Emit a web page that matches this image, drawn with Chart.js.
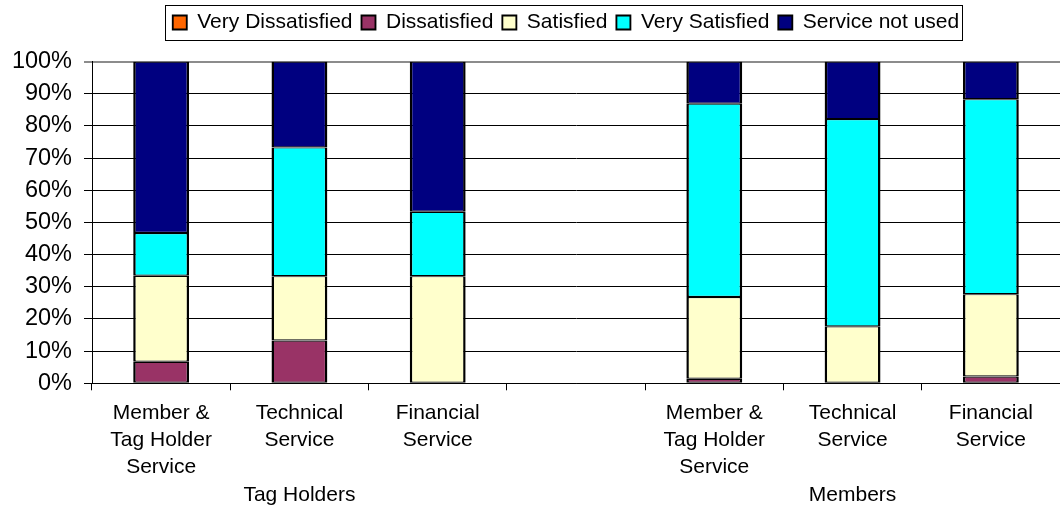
<!DOCTYPE html>
<html>
<head>
<meta charset="utf-8">
<script src="https://cdn.jsdelivr.net/npm/chart.js@4"></script>
<style>
  html, body { margin: 0; padding: 0; background: #fff; }
</style>
</head>
<body>
<canvas id="chart" width="1060" height="506"></canvas>
<script>
// categories on the axis, the empty slot is the gap between the two groups
const categories = [
  ['Member &', 'Tag Holder', 'Service'],
  ['Technical', 'Service'],
  ['Financial', 'Service'],
  [''],
  ['Member &', 'Tag Holder', 'Service'],
  ['Technical', 'Service'],
  ['Financial', 'Service']
]
const groupLabels = ['', 'Tag Holders', '', '', '', 'Members', '']

const seriesNames = ['Very Dissatisfied', 'Dissatisfied', 'Satisfied', 'Very Satisfied', 'Service not used']
const seriesColors = ['#FF6600', '#993366', '#FFFFCC', '#00FFFF', '#000080']

// percentages
const veryDissatisfied = [0, 0, 0, null, 0, 0, 0]
const dissatisfied     = [6.7, 13.3, 0, null, 1.4, 0, 2.1]
const satisfied        = [26.7, 20.0, 33.3, null, 25.4, 17.7, 25.6]
const verySatisfied    = [13.3, 40.0, 20.0, null, 60.1, 64.4, 60.6]
const serviceNotUsed   = [53.3, 26.7, 46.7, null, 13.1, 17.9, 11.7]

const yTicks = [0, 10, 20, 30, 40, 50, 60, 70, 80, 90, 100]

const LEGEND_CENTER = 566

Chart.defaults.font.family = "'Liberation Sans', Arial, sans-serif"
Chart.defaults.color = '#000'

// two level axis: group name goes on a fourth line under the middle category
const axisLabels = categories.map((lines, i) => {
  if (!groupLabels[i]) return lines
  const out = lines.slice()
  while (out.length < 3) out.push('')
  out.push(groupLabels[i])
  return out
})

// moves the legend to sit where the original had it and draws the frame round it
const legendFrame = {
  id: 'legendFrame',
  afterLayout(chart) {
    const lg = chart.legend
    const shift = LEGEND_CENTER - (lg.left + lg.right) / 2
    lg.left += shift
    lg.right += shift
  },
  afterDraw(chart) {
    const boxes = chart.legend.legendHitBoxes
    if (!boxes || !boxes.length) return
    const first = boxes[0]
    const last = boxes[boxes.length - 1]
    const ctx = chart.ctx
    const x0 = Math.round(first.left - 8) + 0.5
    const x1 = Math.round(last.left + last.width + 3) + 0.5
    const y0 = Math.round(first.top - 7) + 0.5
    const y1 = Math.round(first.top + 28) + 0.5
    ctx.save()
    ctx.strokeStyle = '#000'
    ctx.lineWidth = 1
    ctx.strokeRect(x0, y0, x1 - x0, y1 - y0)
    ctx.restore()
  }
}

const allSeries = [veryDissatisfied, dissatisfied, satisfied, verySatisfied, serviceNotUsed]

new Chart(document.getElementById('chart'), {
  type: 'bar',
  data: {
    labels: axisLabels,
    datasets: allSeries.map((values, i) => ({
      label: seriesNames[i],
      data: values,
      backgroundColor: seriesColors[i],
      borderColor: '#000',
      borderWidth: { top: 1.2, bottom: 1.2, left: 2.5, right: 2.5 },
      borderSkipped: false,
      inflateAmount: 0,
      barPercentage: 0.404,
      categoryPercentage: 1
    }))
  },
  plugins: [legendFrame],
  options: {
    responsive: false,
    animation: false,
    layout: {
      padding: { top: 3, left: 0, right: 0, bottom: 0 }
    },
    plugins: {
      legend: {
        position: 'top',
        labels: {
          font: { size: 21 },
          color: '#000',
          boxWidth: 14,
          boxHeight: 14,
          padding: 9
        }
      },
      // empty title used as a spacer between legend and plot
      title: {
        display: true,
        text: '',
        weight: 500,
        padding: 0,
        font: { size: 18.5, lineHeight: 1 }
      },
      tooltip: { enabled: false }
    },
    scales: {
      x: {
        stacked: true,
        offset: true,
        afterFit(scale) {
          scale.height = 122.7
        },
        grid: {
          offset: true,
          drawOnChartArea: false,
          drawTicks: true,
          tickLength: 7,
          color: '#000'
        },
        border: { color: '#000' },
        ticks: {
          font: { size: 21, lineHeight: 1.3 },
          color: '#000',
          padding: 9,
          maxRotation: 0,
          autoSkip: false
        }
      },
      y: {
        stacked: true,
        min: yTicks[0],
        max: yTicks[yTicks.length - 1],
        afterBuildTicks(scale) {
          scale.ticks = yTicks.map(v => ({ value: v }))
        },
        afterFit(scale) {
          scale.width = 92
        },
        grid: {
          color: ctx => ctx.tick && ctx.tick.value === 100 ? '#8c8c8c' : '#000',
          lineWidth: ctx => ctx.tick && ctx.tick.value === 100 ? 2 : 1,
          tickLength: 8
        },
        border: { color: '#000' },
        ticks: {
          font: { size: 23.5 },
          color: '#000',
          padding: 12,
          callback: v => v + '%'
        }
      }
    }
  }
})
</script>
</body>
</html>
